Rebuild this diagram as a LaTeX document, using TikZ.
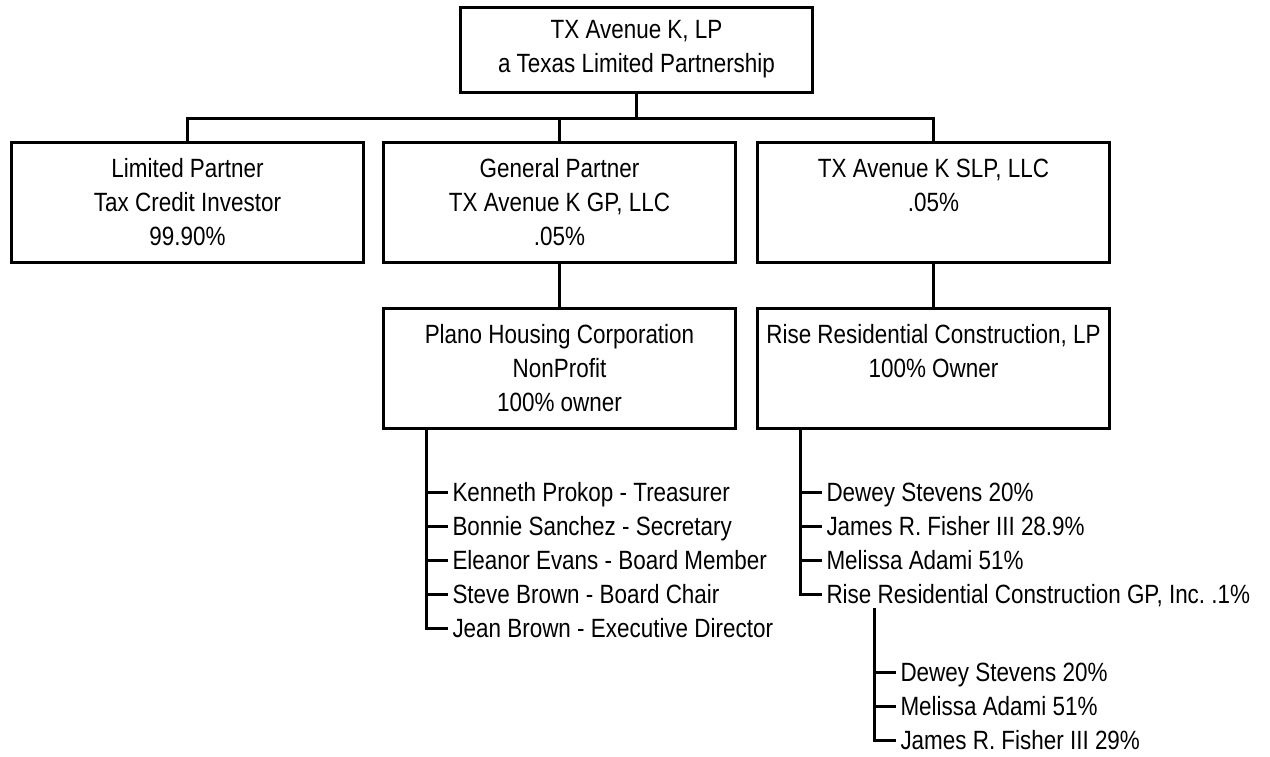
\documentclass[tikz,border=0pt]{standalone}
\usepackage{fontspec}
\setmainfont[FakeStretch=0.85]{Liberation Sans}
\usetikzlibrary{positioning}

\begin{document}
\begin{tikzpicture}[x=0.5pt, y=-0.5pt, line width=1.5pt, node distance=3.1pt,
      every node/.append style={font=\fontsize{13.2}{17}\selectfont\frenchspacing}]
    \tikzstyle{entity} = [draw, align=center, inner sep=0pt, minimum width=176pt, minimum height=60pt]
    \tikzstyle{member} = [anchor=west, inner sep=1.5pt, text height=9.4pt, text depth=0pt]
    \useasboundingbox (0,0) rectangle (1270,756);
    % boxes
    \node [entity, minimum height=42.5pt] (lp) at (636.5,49.5) {TX Avenue K, LP\\a Texas Limited Partnership};
    \node [entity] (investor) at (187.5,202) {Limited Partner\\Tax Credit Investor\\99.90\%};
    \node [entity] (gp) at (559.5,202) {General Partner\\TX Avenue K GP, LLC\\.05\%};
    \node [entity] (slp) at (933.5,202) {TX Avenue K SLP, LLC\\.05\%\\\phantom{0}};
    \node [entity] (plano) at (559.5,368.5) {Plano Housing Corporation\\NonProfit\\100\% owner};
    \node [entity] (rise) at (933.5,368.5) {Rise Residential Construction, LP\\100\% Owner\\\phantom{0}};
    \coordinate (bus) at ([yshift=-12.5pt]lp.south);
    \draw (lp.south) -- (bus);
    \draw (investor.north) |- (bus) -| (slp.north);
    \draw (gp.north) -- (gp.north |- bus);
    \draw (gp.south) -- (plano.north);
    \draw (slp.south) -- (rise.north);
    % plano board
    \node [member] (prokop) at (448,492) {Kenneth Prokop - Treasurer};
    \node [member, below=of prokop.south west, anchor=north west] (sanchez) {Bonnie Sanchez - Secretary};
    \node [member, below=of sanchez.south west, anchor=north west] (evans) {Eleanor Evans - Board Member};
    \node [member, below=of evans.south west, anchor=north west] (sbrown) {Steve Brown - Board Chair};
    \node [member, below=of sbrown.south west, anchor=north west] (jbrown) {Jean Brown - Executive Director};
    \coordinate (planotrunk) at ([xshift=22pt]plano.south west);
    \draw (planotrunk) |- (jbrown.west);
    \foreach \m in {prokop,sanchez,evans,sbrown}
      \draw (planotrunk |- \m.west) -- (\m.west);
    % rise owners
    \node [member] (stevens) at (822,492) {Dewey Stevens 20\%};
    \node [member, below=of stevens.south west, anchor=north west] (fisher) {James R. Fisher III 28.9\%};
    \node [member, below=of fisher.south west, anchor=north west] (adami) {Melissa Adami 51\%};
    \node [member, below=of adami.south west, anchor=north west] (risegp) {Rise Residential Construction GP, Inc. .1\%};
    \coordinate (risetrunk) at ([xshift=22pt]rise.south west);
    \draw (risetrunk) |- (risegp.west);
    \foreach \m in {stevens,fisher,adami}
      \draw (risetrunk |- \m.west) -- (\m.west);
    % rise gp owners
    \node [member] (gpstevens) at (896,672) {Dewey Stevens 20\%};
    \node [member, below=of gpstevens.south west, anchor=north west] (gpadami) {Melissa Adami 51\%};
    \node [member, below=of gpadami.south west, anchor=north west] (gpfisher) {James R. Fisher III 29\%};
    \coordinate (gptrunk) at ([xshift=26pt]risegp.south west);
    \draw (gptrunk) |- (gpfisher.west);
    \foreach \m in {gpstevens,gpadami}
      \draw (gptrunk |- \m.west) -- (\m.west);
\end{tikzpicture}
\end{document}
